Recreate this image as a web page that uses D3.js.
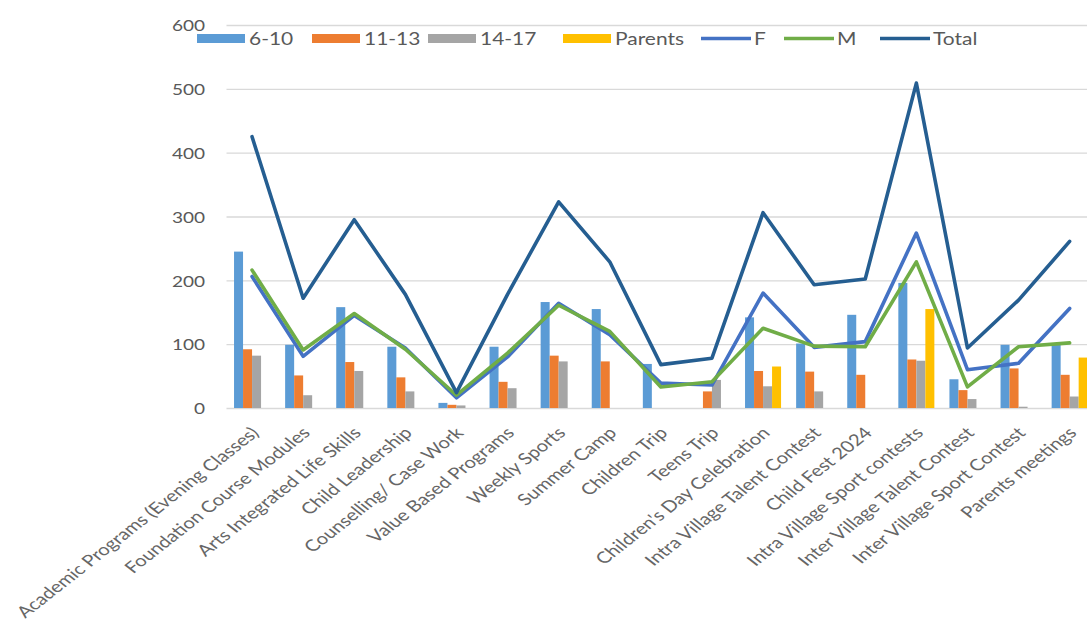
<!DOCTYPE html>
<html>
<head>
<meta charset="utf-8">
<script src="https://cdn.jsdelivr.net/npm/d3@7"></script>
<style>
  html, body { margin: 0; padding: 0; background: #fff; overflow: hidden; }
  svg { display: block; font-family: Lato, "Open Sans", sans-serif; }
</style>
</head>
<body>
<div id="chart"></div>
<script>
// activity names along the x axis
const categories = [
  "Academic Programs (Evening Classes)", "Foundation Course Modules", "Arts Integrated Life Skills",
  "Child Leadership", "Counselling/ Case Work", "Value Based Programs", "Weekly Sports",
  "Summer Camp", "Children Trip", "Teens Trip", "Children's Day Celebration",
  "Intra Village Talent Contest", "Child Fest 2024", "Intra Village Sport contests",
  "Inter Village Talent Contest", "Inter Village Sport Contest", "Parents meetings"
];

// bar series (participants by age group)
const age6to10  = [245, 99, 158, 96, 8, 96, 166, 155, 69, 0, 142, 101, 146, 196, 45, 99, 99];
const age11to13 = [92, 51, 72, 48, 5, 41, 82, 73, 0, 26, 58, 57, 52, 76, 28, 62, 52];
const age14to17 = [82, 20, 58, 26, 4, 31, 73, 0, 0, 44, 34, 26, 0, 74, 14, 2, 18];
const parents   = [0, 0, 0, 0, 0, 0, 0, 0, 0, 0, 65, 0, 0, 155, 0, 0, 79];

// line series
const female = [206, 81, 145, 94, 16, 80, 164, 115, 39, 36, 180, 95, 104, 274, 60, 70, 156];
const male   = [216, 91, 148, 92, 20, 86, 161, 120, 33, 41, 125, 97, 96, 229, 33, 96, 102];
const total  = [425, 172, 295, 178, 24, 178, 323, 229, 68, 78, 306, 193, 202, 509, 94, 169, 261];

const yTicks = [0, 100, 200, 300, 400, 500, 600];

const barSeries = [
  {name: "6-10", values: age6to10, color: "#5B9BD5"},
  {name: "11-13", values: age11to13, color: "#ED7D31"},
  {name: "14-17", values: age14to17, color: "#A5A5A5"},
  {name: "Parents", values: parents, color: "#FFC000"}
];
const lineSeries = [
  {name: "F", values: female, color: "#4472C4"},
  {name: "M", values: male, color: "#70AD47"},
  {name: "Total", values: total, color: "#255E91"}
];

function ComboChart({
  width = 1087,
  height = 627,
  plotLeft = 226.5,
  step = 51.1,
  yTop = 25,
  yBottom = 408,
  stretch = 1.27, // the picture is widened horizontally, text included
  textColor = "#595959",
  gridColor = "#D9D9D9"
} = {}) {
  const x = d3.scaleBand()
    .domain(categories)
    .range([plotLeft, plotLeft + step * categories.length])
    .paddingInner(0.295)
    .paddingOuter(0.1475);

  const xSub = d3.scaleBand()
    .domain(barSeries.map(d => d.name))
    .range([0, x.bandwidth()]);

  const y = d3.scaleLinear().domain([0, 600]).range([yBottom, yTop]);

  const svg = d3.create("svg")
    .attr("width", width)
    .attr("height", height)
    .attr("viewBox", [0, 0, width, height]);

  svg.append("rect").attr("width", width).attr("height", height).attr("fill", "#fff");

  // gridlines + y labels
  const yAxis = d3.axisLeft(y).tickValues(yTicks).tickSize(0).tickPadding(0);
  svg.append("g")
    .call(yAxis)
    .call(g => g.select(".domain").remove())
    .call(g => g.selectAll(".tick line")
      .attr("x1", plotLeft)
      .attr("x2", width + 20)
      .attr("stroke", gridColor)
      .attr("stroke-width", 1.3))
    .call(g => g.selectAll(".tick text")
      .attr("x", null)
      .attr("dy", null)
      .attr("fill", textColor)
      .attr("font-size", 15)
      .attr("font-family", "Lato, sans-serif")
      .attr("text-anchor", "end")
      .attr("dominant-baseline", "central")
      .attr("transform", `translate(205,0) scale(${stretch},1)`));

  // bars
  svg.append("g")
    .selectAll("g")
    .data(barSeries)
    .join("g")
    .attr("fill", d => d.color)
    .selectAll("rect")
    .data(d => d.values.map((v, i) => ({key: d.name, cat: categories[i], v})))
    .join("rect")
    .attr("x", d => x(d.cat) + xSub(d.key))
    .attr("width", xSub.bandwidth())
    .attr("y", d => y(d.v))
    .attr("height", d => y(0) - y(d.v));

  // lines
  const line = d3.line()
    .x((v, i) => x(categories[i]) + x.bandwidth() / 2)
    .y(v => y(v));

  svg.append("g")
    .selectAll("path")
    .data(lineSeries)
    .join("path")
    .attr("fill", "none")
    .attr("stroke", d => d.color)
    .attr("stroke-width", 3.6)
    .attr("stroke-linejoin", "round")
    .attr("stroke-linecap", "round")
    .attr("d", d => line(d.values));

  // x labels, rotated -45 then widened like the rest
  svg.append("g")
    .selectAll("text")
    .data(categories)
    .join("text")
    .attr("transform", d => `translate(${x(d) + x.bandwidth() / 2 + 3},${yBottom + 22}) scale(${stretch},1) rotate(-45)`)
    .attr("text-anchor", "end")
    .attr("dy", "0.35em")
    .attr("fill", "#666")
    .attr("font-size", 16)
    .text(d => d);

  // legend
  const legendItems = [
    {s: barSeries[0], x0: 197, type: "bar"},
    {s: barSeries[1], x0: 312, type: "bar"},
    {s: barSeries[2], x0: 428, type: "bar"},
    {s: barSeries[3], x0: 563, type: "bar"},
    {s: lineSeries[0], x0: 701, type: "line"},
    {s: lineSeries[1], x0: 784, type: "line"},
    {s: lineSeries[2], x0: 880, type: "line"}
  ];
  const legend = svg.append("g")
    .selectAll("g")
    .data(legendItems)
    .join("g")
    .attr("transform", d => `translate(${d.x0},38.5)`);

  legend.filter(d => d.type === "bar").append("rect")
    .attr("y", -4.5).attr("width", 48).attr("height", 9)
    .attr("fill", d => d.s.color);
  legend.filter(d => d.type === "line").append("line")
    .attr("x2", 50)
    .attr("stroke", d => d.s.color)
    .attr("stroke-width", 3.6);
  legend.append("text")
    .attr("transform", d => `translate(${d.type === "bar" ? 52 : 53},0) scale(${stretch},1)`)
    .attr("dominant-baseline", "central")
    .attr("fill", textColor)
    .attr("font-size", 16.5)
    .text(d => d.s.name);

  return svg.node();
}

document.getElementById("chart").appendChild(ComboChart());
</script>
</body>
</html>
